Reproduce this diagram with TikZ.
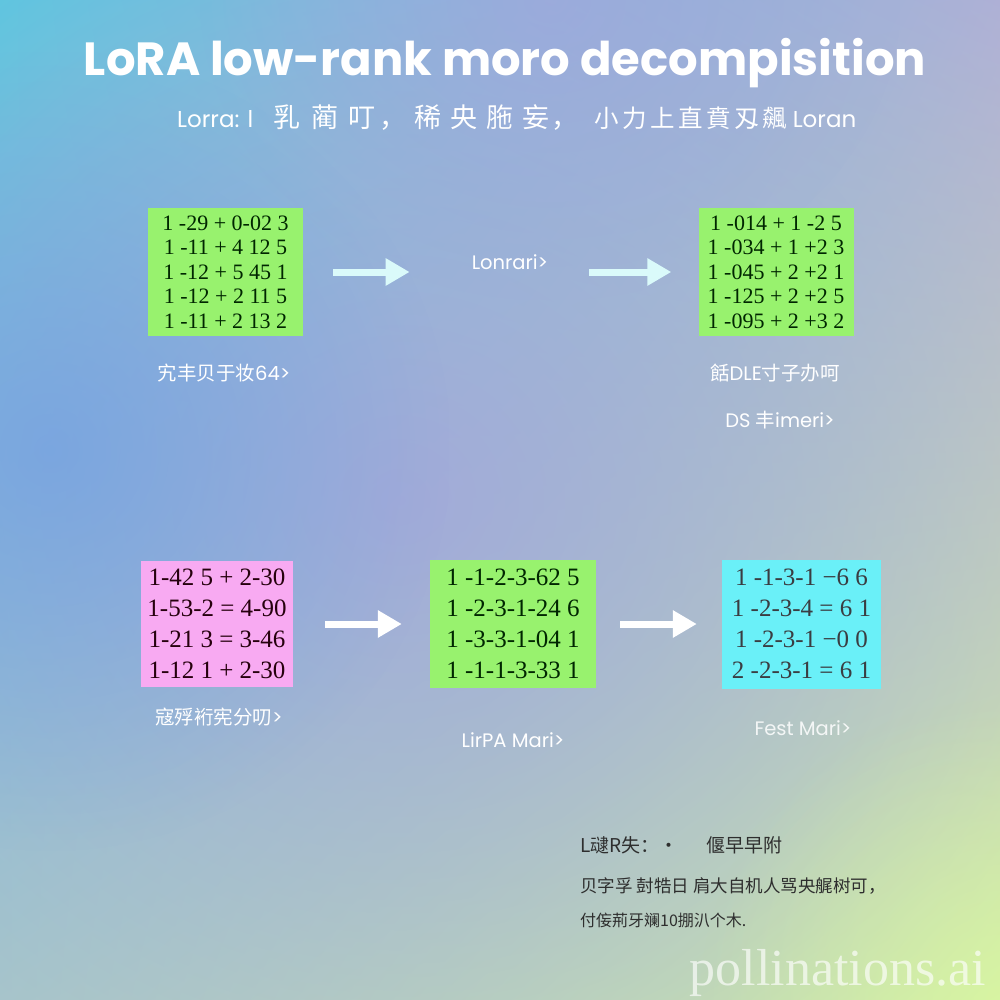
\documentclass[tikz,border=0pt]{standalone}
\usepackage{fontspec}
\usetikzlibrary{arrows.meta,fadings,shadings}
\newfontfamily\popf{Poppins}
\newfontfamily\cjkf{Noto Sans CJK SC}
\newfontfamily\tmsf{Liberation Serif}
\newcommand{\zh}[1]{{\cjkf #1}}
\newcommand{\zhbig}[1]{{\cjkf\fontsize{27}{30}\selectfont #1}}
\newcommand{\zhmid}[1]{{\cjkf\fontsize{24.5}{30}\selectfont #1}}
\definecolor{bgA}{HTML}{4CCFE0}
\definecolor{bgB}{HTML}{B0B2D6}
\definecolor{bgC}{HTML}{A8CEC6}
\definecolor{bgD}{HTML}{DAF8A0}
\definecolor{lavb}{HTML}{A4A4DC}
\definecolor{bluel}{HTML}{74A0E2}
\definecolor{matgreen}{HTML}{98F26E}
\definecolor{matpink}{HTML}{F8AAF2}
\definecolor{matcyan}{HTML}{6AF0F8}
\definecolor{arrcyan}{HTML}{DAFAFA}
\definecolor{txtdark}{HTML}{2E2E2E}
\tikzfading[name=blobfade, inner color=transparent!0, outer color=transparent!100]
\tikzset{
  matbox/.style={minimum width=155pt, minimum height=128pt, inner sep=0pt, align=center, font=\tmsf\fontsize{22}{24.5}\selectfont},
  matbig/.style={matbox, font=\tmsf\fontsize{25}{31}\selectfont},
  lbl/.style={text=white, inner sep=0pt, font=\popf\fontsize{19.5}{22}\selectfont},
  flow/.style={line width=7pt, -{Triangle[length=24pt,width=26pt]}},
}
\begin{document}
\begin{tikzpicture}[x=1pt,y=-1pt]
\useasboundingbox (0,0) rectangle (1000,1000);
% background
\shade[upper left=bgA, upper right=bgB, lower left=bgC, lower right=bgD] (0,0) rectangle (1000,1000);
\fill[lavb, path fading=blobfade, opacity=0.85] (-500,-350) rectangle (1300,1350);
\fill[bluel, path fading=blobfade, opacity=0.75] (-350,50) rectangle (450,850);
\fill[lavb, path fading=blobfade, opacity=0.6] (200,-300) rectangle (900,300);
\fill[bgD, path fading=blobfade, opacity=0.6] (700,700) rectangle (1300,1300);
% title
\node[text=white, inner sep=0pt, font=\popf\bfseries\fontsize{46.5}{50}\selectfont] (title) at (505,63) {LoRA low-rank moro decompisition};
\node[anchor=west, text=white, inner sep=0pt, font=\popf\fontsize{23}{26}\selectfont] (sub) at (177,117)
  {Lorra: l\hspace{20pt}\zhbig{乳\hspace{11pt}蔺\hspace{10pt}叮\hspace{4pt}，\hspace{8pt}稀\hspace{9pt}央\hspace{9pt}胣\hspace{9pt}妄\hspace{2pt}，}\hspace{16pt}\zhmid{小\hspace{3.5pt}力\hspace{3.5pt}上\hspace{3.5pt}直\hspace{3.5pt}賁\hspace{3.5pt}刄\hspace{3.5pt}飆}\hspace{6pt}Loran};
% top row
\node[matbox, fill=matgreen, text=black!85!green] (m1) at (225.5,272)
  {1 -29 + 0-02 3\\1 -11 + 4 12 5\\1 -12 + 5 45 1\\1 -12 + 2 11 5\\1 -11 + 2 13 2};
\node[lbl] (lon) at (510,262) {Lonrari>};
\node[matbox, fill=matgreen, text=black!85!green] (m2) at (776,272)
  {1 -014 + 1 -2 5\\1 -034 + 1 +2 3\\1 -045 + 2 +2 1\\1 -125 + 2 +2 5\\1 -095 + 2 +3 2};
\node[lbl] (l1) at (224,373) {\zh{宄丰贝于妆}64>};
\node[lbl] (l2) at (775,373) {\zh{餂}DLE\zh{寸子办呵}};
\node[lbl] (l2b) at (780,420) {DS \zh{丰}imeri>};
\draw[flow, arrcyan, shorten <=30pt, shorten >=62pt] (m1.east) -- (m1.east -| lon.west);
\draw[flow, arrcyan, shorten <=41pt, shorten >=27pt] (lon.east |- m2.west) -- (m2.west);
% bottom row
\node[matbig, fill=matpink, text=black!80!purple, minimum width=152pt, minimum height=126pt] (m3) at (217,624)
  {1-42 5 + 2-30\\1-53-2 = 4-90\\1-21 3 = 3-46\\1-12 1 + 2-30};
\node[matbig, fill=matgreen, text=black!85!green, minimum width=166pt] (m4) at (513,624)
  {1 -1-2-3-62 5\\1 -2-3-1-24 6\\1 -3-3-1-04 1\\1 -1-1-3-33 1};
\node[matbig, fill=matcyan, text=black!85!cyan, minimum width=159pt, minimum height=129pt] (m5) at (801.5,624)
  {1 -1-3-1 −6 6\\1 -2-3-4 = 6 1\\1 -2-3-1 −0 0\\2 -2-3-1 = 6 1};
\draw[flow, white, shorten <=32pt, shorten >=28pt] (m3.east) -- (m4.west);
\draw[flow, white, shorten <=24pt, shorten >=25pt] (m4.east) -- (m5.west);
\node[lbl] (l3) at (219,717) {\zh{寇殍裄宪分叨}>};
\node[lbl] (l4) at (513,740) {LirPA Mari>};
\node[lbl, opacity=0.85] (l5) at (803,728) {Fest Mari>};
% note
\node[anchor=west, inner sep=0pt, text=txtdark, font=\cjkf\fontsize{19}{22}\selectfont] (n1) at (580,845) {L叇R失：·\hspace{28pt}偃早早附};
\node[anchor=west, inner sep=0pt, text=txtdark, font=\cjkf\fontsize{17.5}{20}\selectfont] (n2) at (580,886) {贝字孚 尌牿日 肩大自机人骂央艉树可，};
\node[anchor=west, inner sep=0pt, text=txtdark, font=\cjkf\fontsize{16}{20}\selectfont] (n3) at (580,920) {付侫荊牙斓10掤汃个木.};
% watermark
\node[anchor=base east, inner sep=0pt, text=white, opacity=0.65, font=\tmsf\fontsize{52}{55}\selectfont] (wm) at (986,985) {pollinations.ai};
\end{tikzpicture}
\end{document}
